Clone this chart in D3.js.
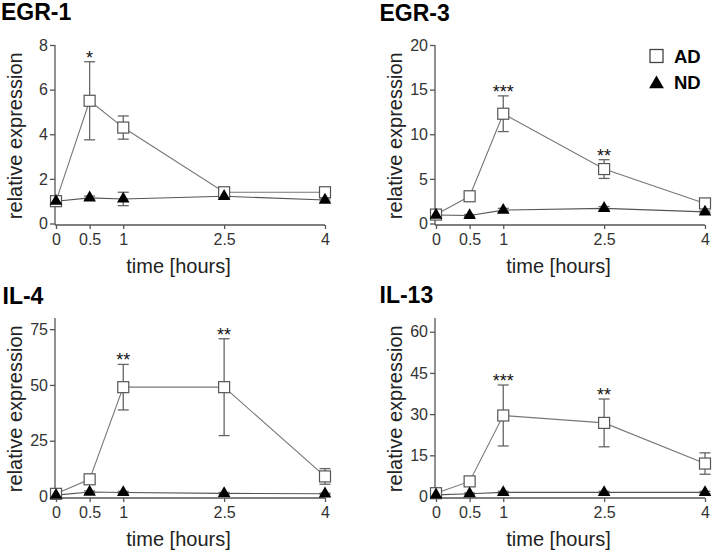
<!DOCTYPE html>
<html>
<head>
<meta charset="utf-8">
<script src="https://cdn.jsdelivr.net/npm/d3@7"></script>
<style>
  body { margin: 0; background: #fff; }
  svg { display: block; font-family: "Liberation Sans", Arial, sans-serif; }
</style>
</head>
<body>
<svg id="chart" width="714" height="553"></svg>
<script>
// sampling times (hours)
const times = [0, 0.5, 1, 2.5, 4];

// EGR-1
const egr1AD = [1.0, 5.5, 4.3, 1.4, 1.4];
const egr1ADsem = [0.05, 1.75, 0.52, 0.1, 0.1];
const egr1ND = [1.0, 1.15, 1.1, 1.22, 1.05];
const egr1NDsem = [0.05, 0.08, 0.3, 0.1, 0.05];
const egr1Ticks = [0, 2, 4, 6, 8];
const egr1Stars = [{ t: 0.5, s: "*" }];

// EGR-3
const egr3AD = [1.0, 3.05, 12.3, 6.1, 2.25];
const egr3ADsem = [0.1, 0.3, 2.0, 1.05, 0.3];
const egr3ND = [0.95, 0.9, 1.5, 1.7, 1.3];
const egr3NDsem = [0.05, 0.1, 0.2, 0.2, 0.1];
const egr3Ticks = [0, 5, 10, 15, 20];
const egr3Stars = [{ t: 1, s: "***" }, { t: 2.5, s: "**" }];

// IL-4
const il4AD = [1.2, 7.7, 49, 49, 9.0];
const il4ADsem = [0.5, 1.0, 10.2, 21.7, 3.5];
const il4ND = [0.6, 2.0, 1.8, 1.4, 1.2];
const il4NDsem = [0.3, 0.5, 0.5, 0.4, 0.3];
const il4Ticks = [0, 25, 50, 75];
const il4Stars = [{ t: 1, s: "**" }, { t: 2.5, s: "**" }];

// IL-13
const il13AD = [1.2, 5.5, 29.5, 26.8, 12];
const il13ADsem = [0.5, 0.8, 11.1, 8.7, 3.9];
const il13ND = [0.6, 1.0, 1.5, 1.5, 1.5];
const il13NDsem = [0.3, 0.3, 0.4, 0.4, 0.4];
const il13Ticks = [0, 15, 30, 45, 60];
const il13Stars = [{ t: 1, s: "***" }, { t: 2.5, s: "**" }];

const panels = [
  { title: "EGR-1", ad: egr1AD, adSem: egr1ADsem, nd: egr1ND, ndSem: egr1NDsem, yMax: 8, ticks: egr1Ticks, stars: egr1Stars,
    x0: 56, x1: 325, yTop: 45, yBot: 223.5, tx: 1, ty: 20 },
  { title: "EGR-3", ad: egr3AD, adSem: egr3ADsem, nd: egr3ND, ndSem: egr3NDsem, yMax: 20, ticks: egr3Ticks, stars: egr3Stars,
    x0: 436, x1: 705, yTop: 45, yBot: 223.5, tx: 379.5, ty: 20.5 },
  { title: "IL-4", ad: il4AD, adSem: il4ADsem, nd: il4ND, ndSem: il4NDsem, yMax: 80, ticks: il4Ticks, stars: il4Stars,
    x0: 56, x1: 325, yTop: 318, yBot: 496.5, tx: 2.5, ty: 304 },
  { title: "IL-13", ad: il13AD, adSem: il13ADsem, nd: il13ND, ndSem: il13NDsem, yMax: 65, ticks: il13Ticks, stars: il13Stars,
    x0: 436, x1: 705, yTop: 318, yBot: 496.5, tx: 379.5, ty: 303 }
];

const svg = d3.select("#chart");
const axisColor = "#555";
const lineColor = "#666";
const tri = d3.symbol().type(d3.symbolTriangle);

panels.forEach(p => {
  const x = d3.scaleLinear().domain([0, 4]).range([p.x0, p.x1]);
  const y = d3.scaleLinear().domain([0, p.yMax]).range([p.yBot, p.yTop]);
  const g = svg.append("g");

  g.append("text")
    .attr("x", p.tx).attr("y", p.ty)
    .attr("font-size", 23).attr("font-weight", "bold").attr("fill", "#000")
    .text(p.title);

  // y axis
  const yAx = g.append("g")
    .attr("transform", `translate(${p.x0 - 1},0)`)
    .call(d3.axisLeft(y).tickValues(p.ticks).tickSize(5).tickSizeOuter(0).tickPadding(2));
  yAx.select(".domain").attr("d", `M0,${p.yTop}V${p.yBot + 1.5}`);

  // x axis
  const xAx = g.append("g")
    .attr("transform", `translate(0,${p.yBot + 1.5})`)
    .call(d3.axisBottom(x).tickValues(times).tickFormat(d3.format("")).tickSize(4).tickSizeOuter(0).tickPadding(5));
  xAx.select(".domain").attr("d", `M${p.x0 - 1},0H${p.x1}`);

  [yAx, xAx].forEach(a => {
    a.selectAll("path, line").attr("stroke", axisColor).attr("stroke-width", 1.3);
    a.selectAll("text").attr("font-size", 16).attr("fill", "#333")
      .attr("font-family", "Liberation Sans, Arial, sans-serif");
  });

  // axis titles
  g.append("text")
    .attr("transform", `translate(${p.x0 - 34},${(p.yTop + p.yBot) / 2 + 1.5}) rotate(-90)`)
    .attr("text-anchor", "middle").attr("font-size", 20).attr("fill", "#222")
    .text("relative expression");
  g.append("text")
    .attr("x", (p.x0 + p.x1) / 2 - 12).attr("y", p.yBot + 49)
    .attr("text-anchor", "middle").attr("font-size", 20).attr("fill", "#222")
    .text("time [hours]");

  const line = d3.line().x((d, i) => x(times[i])).y(d => y(d));

  const series = [
    { vals: p.ad, sem: p.adSem, kind: "ad" },
    { vals: p.nd, sem: p.ndSem, kind: "nd" }
  ];

  series.forEach(s => {
    g.append("path").datum(s.vals)
      .attr("d", line).attr("fill", "none")
      .attr("stroke", s.kind === "ad" ? "#777" : "#555").attr("stroke-width", 1.1);

    const eb = g.append("g").selectAll("g").data(s.vals).join("g");
    eb.append("line")
      .attr("x1", (d, i) => x(times[i])).attr("x2", (d, i) => x(times[i]))
      .attr("y1", (d, i) => y(d + s.sem[i])).attr("y2", (d, i) => y(d - s.sem[i]))
      .attr("stroke", lineColor).attr("stroke-width", 1.3);
    [1, -1].forEach(sg => {
      eb.append("line")
        .attr("x1", (d, i) => x(times[i]) - 5.5).attr("x2", (d, i) => x(times[i]) + 5.5)
        .attr("y1", (d, i) => y(d + sg * s.sem[i])).attr("y2", (d, i) => y(d + sg * s.sem[i]))
        .attr("stroke", lineColor).attr("stroke-width", 1.3);
    });
  });

  // markers: AD squares, then ND triangles on top
  g.append("g").selectAll("rect").data(p.ad).join("rect")
    .attr("x", (d, i) => x(times[i]) - 5.5).attr("y", d => y(d) - 5.5)
    .attr("width", 11).attr("height", 11)
    .attr("fill", "#fff").attr("stroke", "#555").attr("stroke-width", 1.2);
  g.append("g").selectAll("path").data(p.nd).join("path")
    .attr("d", tri.size(68))
    .attr("transform", (d, i) => `translate(${x(times[i])},${y(d)})`)
    .attr("fill", "#000");

  // significance marks
  g.append("g").selectAll("text").data(p.stars).join("text")
    .attr("x", d => x(d.t))
    .attr("y", d => {
      const i = times.indexOf(d.t);
      return y(p.ad[i] + p.adSem[i]) + 2;
    })
    .attr("text-anchor", "middle").attr("font-size", 18).attr("fill", "#111")
    .text(d => d.s);
});

// legend
const leg = svg.append("g");
leg.append("rect").attr("x", 650).attr("y", 49.5).attr("width", 13).attr("height", 13)
  .attr("fill", "#fff").attr("stroke", "#444").attr("stroke-width", 1.3);
leg.append("text").attr("x", 674).attr("y", 63.3)
  .attr("font-size", 18.5).attr("font-weight", "bold").text("AD");
leg.append("path").attr("d", tri.size(95))
  .attr("transform", "translate(656.5,84)").attr("fill", "#000");
leg.append("text").attr("x", 674).attr("y", 89.3)
  .attr("font-size", 18.5).attr("font-weight", "bold").text("ND");
</script>
</body>
</html>
